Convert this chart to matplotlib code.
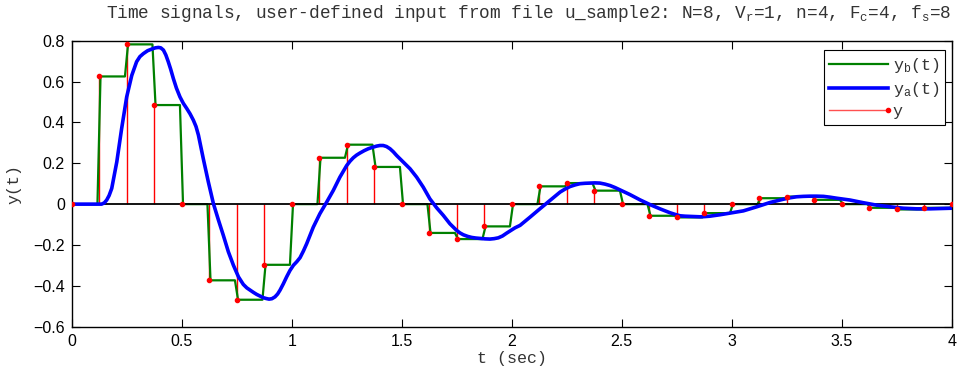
import numpy as np
import matplotlib
matplotlib.use('Agg')
import matplotlib.pyplot as plt
from matplotlib.lines import Line2D
from matplotlib.legend_handler import HandlerBase

# sampled sequence y[k], fs = 8 samples/sec
fs = 8
y_samples = [0.0, 0.625, 0.782, 0.485, 0.0, -0.373, -0.468, -0.297,
             0.0, 0.227, 0.291, 0.182, 0.0, -0.141, -0.171, -0.109,
             0.0, 0.087, 0.103, 0.066, 0.0, -0.057, -0.065, -0.044,
             0.0, 0.029, 0.037, 0.021, 0.0, -0.018, -0.026, -0.018, 0.0]

# reconstructed analog output y_a(t)
t_a = [0.0, 0.136, 0.148, 0.159, 0.17, 0.182, 0.205, 0.227, 0.25, 0.273, 0.295, 0.31,
       0.326, 0.345, 0.364, 0.38, 0.394, 0.405, 0.417, 0.428, 0.439, 0.45, 0.462,
       0.476, 0.492, 0.507, 0.523, 0.538, 0.553, 0.565, 0.576, 0.598,
       0.621, 0.644, 0.667, 0.689, 0.712, 0.735, 0.758, 0.78, 0.796, 0.811, 0.826,
       0.841, 0.856, 0.871, 0.884, 0.897, 0.91, 0.924, 0.936, 0.947, 0.962, 0.977,
       0.992, 1.008, 1.023, 1.038, 1.053, 1.068, 1.098, 1.128,
       1.159, 1.189, 1.219, 1.25, 1.265, 1.28, 1.295, 1.31, 1.33, 1.348, 1.367,
       1.386, 1.401, 1.416, 1.431, 1.447,
       1.462, 1.477, 1.507, 1.538, 1.568, 1.598, 1.628, 1.659, 1.689, 1.719, 1.75,
       1.765, 1.78, 1.8, 1.818, 1.837, 1.856, 1.878, 1.901, 1.92, 1.939, 1.958,
       1.977, 2.015, 2.038, 2.083, 2.128,
       2.174, 2.22, 2.243, 2.265, 2.288, 2.31, 2.333, 2.356, 2.378, 2.401, 2.424,
       2.447, 2.47, 2.492, 2.537, 2.583,
       2.628, 2.674, 2.719, 2.742, 2.765, 2.788, 2.81, 2.833, 2.856, 2.878, 2.901,
       2.947, 2.992, 3.053,
       3.114, 3.174, 3.235, 3.265, 3.295, 3.326, 3.356, 3.386, 3.417, 3.447, 3.477,
       3.538, 3.598, 3.659,
       3.72, 3.78, 3.841, 3.901, 3.962, 4.0]
y_a = [0.0, 0.0, 0.006, 0.02, 0.042, 0.077, 0.207, 0.37, 0.525, 0.63, 0.697, 0.722,
       0.737, 0.751, 0.759, 0.765, 0.767, 0.765, 0.754, 0.73, 0.697, 0.66, 0.615,
       0.568, 0.525, 0.494, 0.468, 0.442, 0.411, 0.38, 0.338, 0.223,
       0.109, 0.003, -0.078, -0.152, -0.233, -0.299, -0.356, -0.393, -0.41, -0.421, -0.432,
       -0.442, -0.45, -0.458, -0.462, -0.465, -0.463, -0.454, -0.44, -0.421, -0.39, -0.356,
       -0.325, -0.299, -0.282, -0.262, -0.23, -0.194, -0.113, -0.047,
       0.01, 0.067, 0.132, 0.189, 0.21, 0.227, 0.24, 0.25, 0.262, 0.271, 0.278,
       0.284, 0.287, 0.287, 0.282, 0.271,
       0.256, 0.238, 0.206, 0.173, 0.132, 0.083, 0.026, -0.018, -0.055, -0.096, -0.129,
       -0.141, -0.15, -0.158, -0.163, -0.166, -0.168, -0.17, -0.171, -0.169, -0.165, -0.156,
       -0.142, -0.116, -0.104, -0.064, -0.023,
       0.018, 0.059, 0.074, 0.086, 0.094, 0.1, 0.102, 0.103, 0.104, 0.103, 0.098,
       0.091, 0.081, 0.07, 0.047, 0.021,
       -0.002, -0.023, -0.042, -0.05, -0.057, -0.059, -0.06, -0.061, -0.062, -0.061, -0.059,
       -0.052, -0.044, -0.033,
       -0.013, 0.008, 0.024, 0.031, 0.036, 0.038, 0.039, 0.039, 0.038, 0.034, 0.029,
       0.02, 0.007, -0.005,
       -0.013, -0.02, -0.023, -0.023, -0.021, -0.02]

TITLE = ('Time signals, user-defined input from file u_sample2: '
         'N=8, V$_r$=1, n=4, F$_c$=4, f$_s$=8')


class StemHandler(HandlerBase):
    """legend entry like a stem: line with the dot at its right end"""
    def create_artists(self, legend, orig_handle, xdescent, ydescent,
                       width, height, fontsize, trans):
        y = (height - ydescent) / 2
        x0, x1 = -xdescent, width - xdescent
        line = Line2D([x0, x1], [y, y], color=orig_handle.get_color(),
                      lw=orig_handle.get_linewidth())
        dot = Line2D([x1], [y], ls='none', marker='o',
                     ms=orig_handle.get_markersize(), color='#ff0000')
        line.set_transform(trans)
        dot.set_transform(trans)
        return [line, dot]


def zoh(ts, ys, lead=0.008, lag=0.006):
    # staircase with short linear transitions around each sample instant
    tb, yb = [ts[0]], [ys[0]]
    for k in range(1, len(ts)):
        tb += [ts[k] - lead, ts[k] + lag]
        yb += [ys[k - 1], ys[k]]
    return tb, yb


def main():
    plt.rcParams['font.family'] = ['Liberation Sans', 'DejaVu Sans']
    plt.rcParams['mathtext.default'] = 'regular'
    mono = 'Liberation Mono'

    t_s = np.arange(len(y_samples)) / fs
    t_b, y_b = zoh(t_s, y_samples)

    fig = plt.figure(figsize=(9.63, 3.75), dpi=100)
    ax = fig.add_axes([71.7 / 963, 1 - 326.7 / 375, 880 / 963, 286 / 375])

    ax.vlines(t_s, 0, y_samples, color='#ff0000', lw=1.0, zorder=2)
    ax.plot(t_b, y_b, color='#008000', lw=1.6, zorder=3, label='y$_b$(t)')
    ax.axhline(0, color='black', lw=1.3, zorder=3.5)
    ax.plot(t_a, y_a, color='#0000ff', lw=2.6, zorder=4, label='y$_a$(t)',
            solid_joinstyle='round')
    ax.plot(t_s, y_samples, 'o', color='#ff0000', ms=3.0, zorder=5)

    ax.set_xlim(0, 4)
    ax.set_ylim(-0.6, 0.8)
    ax.set_xticks(np.arange(0, 4.01, 0.5))
    ax.set_xticklabels(['0', '0.5', '1', '1.5', '2', '2.5', '3', '3.5', '4'])
    ax.set_yticks(np.arange(-0.6, 0.81, 0.2))
    ax.set_yticklabels(['\u22120.6', '\u22120.4', '\u22120.2', '0',
                        '0.2', '0.4', '0.6', '0.8'])
    ax.tick_params(direction='in', top=True, right=True, length=6, width=0.8,
                   labelsize=11.5, pad=5)
    for sp in ax.spines.values():
        sp.set_linewidth(1.0)

    ax.set_xlabel('t (sec)', family=mono, fontsize=12, color='#333333', labelpad=2)
    ax.set_ylabel('y(t)', family=mono, fontsize=12, color='#333333', labelpad=8)
    fig.text(529 / 963, 1 - 18 / 375, TITLE, family=mono, fontsize=12.8,
             color='#333333', ha='center', va='baseline')

    stem_proxy = Line2D([], [], color='#ff5050', lw=1.0, ms=3.0)
    handles, labels = ax.get_legend_handles_labels()
    leg = ax.legend(handles + [stem_proxy], labels + ['y'],
                    handler_map={stem_proxy: StemHandler()},
                    loc='upper right', bbox_to_anchor=(945.3 / 963, 1 - 50 / 375),
                    bbox_transform=fig.transFigure, borderaxespad=0,
                    prop={'family': mono, 'size': 12}, handlelength=3.5,
                    handletextpad=0.3, labelspacing=0.3, borderpad=0.35,
                    fancybox=False, framealpha=1, edgecolor='black')
    leg.get_frame().set_linewidth(0.8)
    for txt in leg.get_texts():
        txt.set_color('#333333')

    fig.savefig('out.png', dpi=100)


if __name__ == '__main__':
    main()
